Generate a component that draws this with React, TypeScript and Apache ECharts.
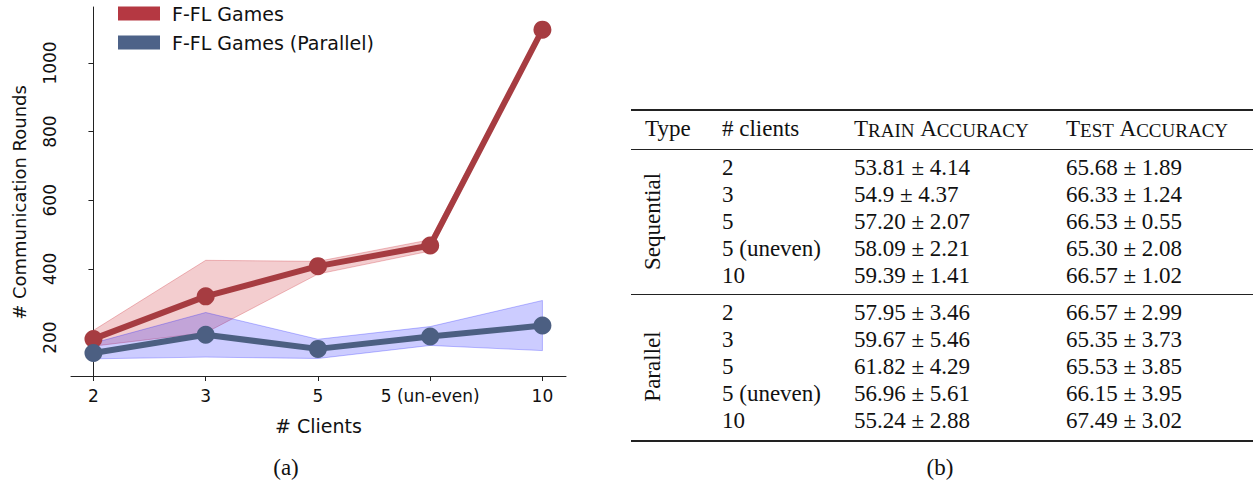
import React, { useEffect, useRef } from "react";
import * as echarts from "echarts";

// ---------- chart data ----------
const categories = ["2", "3", "5", "5 (un-even)", "10"];
const redMean = [196, 320, 408, 468, 1097];
const redLow = [175, 214, 385, 452, 1091];
const redHigh = [221, 425, 422, 485, 1104];
const blueMean = [155, 208, 167, 203, 235];
const blueLow = [138, 143, 139, 177, 162];
const blueHigh = [184, 273, 195, 232, 308];
const yTicks = [200, 400, 600, 800, 1000];
const xTicks = [0, 1, 2, 3, 4];

// ---------- table data ----------
const seqClients = ["2", "3", "5", "5 (uneven)", "10"];
const seqTrain = ["53.81 ± 4.14", "54.9 ± 4.37", "57.20 ± 2.07", "58.09 ± 2.21", "59.39 ± 1.41"];
const seqTest = ["65.68 ± 1.89", "66.33 ± 1.24", "66.53 ± 0.55", "65.30 ± 2.08", "66.57 ± 1.02"];
const parClients = ["2", "3", "5", "5 (uneven)", "10"];
const parTrain = ["57.95 ± 3.46", "59.67 ± 5.46", "61.82 ± 4.29", "56.96 ± 5.61", "55.24 ± 2.88"];
const parTest = ["66.57 ± 2.99", "65.35 ± 3.73", "65.53 ± 3.85", "66.15 ± 3.95", "67.49 ± 3.02"];

const SANS = '"DejaVu Sans", Verdana, sans-serif';
const SERIF = '"Liberation Serif", "Times New Roman", serif';

const RED = "#a63c41";
const BLUE = "#4c5f82";

const tickRich = { t: { fontFamily: SANS, fontSize: 17, color: "#111" } };

function bandSeries(low: number[], high: number[], fill: string, stroke: string) {
  return {
    type: "custom",
    silent: true,
    z: 1,
    data: low.map((v, i) => [i, v, high[i]]),
    encode: { x: 0, y: [1, 2] },
    renderItem: (params: any, api: any) => {
      if (params.dataIndex !== 0) return null;
      const top = high.map((v, i) => api.coord([i, v]));
      const bot = low.map((v, i) => api.coord([i, v])).reverse();
      return {
        type: "polygon",
        shape: { points: [...top, ...bot] },
        style: { fill, stroke, lineWidth: 1 },
      };
    },
  };
}

function lineSeries(name: string, values: number[], color: string) {
  return {
    type: "line",
    name,
    z: 3,
    data: values.map((v, i) => [i, v]),
    lineStyle: { color, width: 6 },
    itemStyle: { color },
    symbol: "circle",
    symbolSize: 18,
    showSymbol: true,
  };
}

function buildTable() {
  const g: any[] = [];
  const fs = 23;
  const txt = (x: number, y: number, text: string, extra: any = {}) => ({
    type: "text",
    x,
    y,
    ...extra,
    style: {
      text,
      fontFamily: SERIF,
      fontSize: fs,
      fill: "#111",
      align: "left",
      verticalAlign: "middle",
      ...(extra.style || {}),
    },
  });
  const rule = (y: number, w: number) => ({
    type: "line",
    shape: { x1: 631, y1: y, x2: 1253, y2: y },
    style: { stroke: "#222", lineWidth: w },
  });
  g.push(rule(110, 2));
  g.push(rule(149.5, 1));
  g.push(rule(294.5, 1));
  g.push(rule(441, 2));

  const headerY = 128.5;
  g.push(txt(645, headerY, "Type"));
  g.push(txt(722, headerY, "# clients"));
  const sc = {
    a: { fontFamily: SERIF, fontSize: 23, fill: "#111", verticalAlign: "bottom" },
    b: { fontFamily: SERIF, fontSize: 19, fill: "#111", verticalAlign: "bottom" },
  };
  g.push({
    type: "text",
    x: 854,
    y: headerY,
    style: { text: "{a|T}{b|RAIN} {a|A}{b|CCURACY}", rich: sc, align: "left", verticalAlign: "middle", fontFamily: SERIF, fontSize: 23 },
  });
  g.push({
    type: "text",
    x: 1066,
    y: headerY,
    style: { text: "{a|T}{b|EST} {a|A}{b|CCURACY}", rich: sc, align: "left", verticalAlign: "middle", fontFamily: SERIF, fontSize: 23 },
  });

  const seqY = [167.5, 194.5, 221.5, 248.5, 275.5];
  const parY = [312.5, 339.5, 366.5, 393.5, 420.5];
  seqClients.forEach((c, i) => {
    g.push(txt(722, seqY[i], c));
    g.push(txt(854, seqY[i], seqTrain[i]));
    g.push(txt(1066, seqY[i], seqTest[i]));
  });
  parClients.forEach((c, i) => {
    g.push(txt(722, parY[i], c));
    g.push(txt(854, parY[i], parTrain[i]));
    g.push(txt(1066, parY[i], parTest[i]));
  });
  g.push(txt(652, 221.5, "Sequential", { rotation: Math.PI / 2, style: { align: "center" } }));
  g.push(txt(652, 366.5, "Parallel", { rotation: Math.PI / 2, style: { align: "center" } }));

  g.push(txt(286, 467, "(a)", { style: { align: "center" } }));
  g.push(txt(940, 467, "(b)", { style: { align: "center" } }));
  return g;
}

export default function App() {
  const ref = useRef<HTMLDivElement>(null);
  useEffect(() => {
    if (!ref.current) return;
    const chart = echarts.init(ref.current, undefined, { renderer: "svg" });
    const option: any = {
      animation: false,
      backgroundColor: "#ffffff",
      textStyle: { fontFamily: SANS },
      grid: { left: 71, top: 7, width: 495, height: 369, containLabel: false },
      legend: {
        orient: "vertical",
        left: 118,
        top: 4,
        padding: 0,
        itemGap: 10,
        itemWidth: 42,
        itemHeight: 14,
        icon: "rect",
        textStyle: { fontFamily: SANS, fontSize: 19, color: "#111", padding: [0, 0, 0, 7] },
        data: [
          { name: "F-FL Games", itemStyle: { color: "#b53842" } },
          { name: "F-FL Games (Parallel)", itemStyle: { color: "#4d6288" } },
        ],
      },
      xAxis: {
        type: "value",
        min: -0.2,
        max: 4.21,
        name: "# Clients",
        nameLocation: "middle",
        nameGap: 40,
        nameTextStyle: { fontFamily: SANS, fontSize: 19, color: "#111" },
        splitLine: { show: false },
        axisLine: { show: true, lineStyle: { color: "#222", width: 1 } },
        axisTick: { show: true, length: 5, lineStyle: { color: "#222" }, customValues: xTicks },
        axisLabel: {
          customValues: xTicks,
          margin: 11,
          fontSize: 17,
          fontFamily: SANS,
          color: "#111",
          hideOverlap: false,
          rich: tickRich,
          formatter: (v: number) => `{t|${categories[Math.round(v)] ?? ""}}`,
        },
      },
      yAxis: {
        type: "value",
        min: 88,
        max: 1163,
        name: "# Communication Rounds",
        nameLocation: "middle",
        nameGap: 43,
        nameTextStyle: { fontFamily: SANS, fontSize: 18, color: "#111", padding: [0, 22, 0, 0] },
        splitLine: { show: false },
        axisLine: { show: true, lineStyle: { color: "#222", width: 1 } },
        axisTick: { show: true, length: 5, lineStyle: { color: "#222" }, customValues: yTicks },
        axisLabel: {
          customValues: yTicks,
          rotate: 90,
          margin: 13,
          fontSize: 17,
          fontFamily: SANS,
          color: "#111",
          hideOverlap: false,
          rich: tickRich,
          formatter: (v: number) => `{t|${String(Math.round(v))}}`,
        },
      },
      series: [
        bandSeries(redLow, redHigh, "rgba(205,45,55,0.24)", "rgba(205,45,55,0.3)"),
        bandSeries(blueLow, blueHigh, "rgba(0,0,255,0.2)", "rgba(0,0,255,0.25)"),
        lineSeries("F-FL Games", redMean, RED),
        lineSeries("F-FL Games (Parallel)", blueMean, BLUE),
      ],
      graphic: buildTable(),
    };
    chart.setOption(option);
    return () => chart.dispose();
  }, []);
  return (
    <div
      ref={ref}
      style={{ position: "absolute", left: 0, top: 0, width: 1253, height: 486, background: "#fff" }}
    />
  );
}
